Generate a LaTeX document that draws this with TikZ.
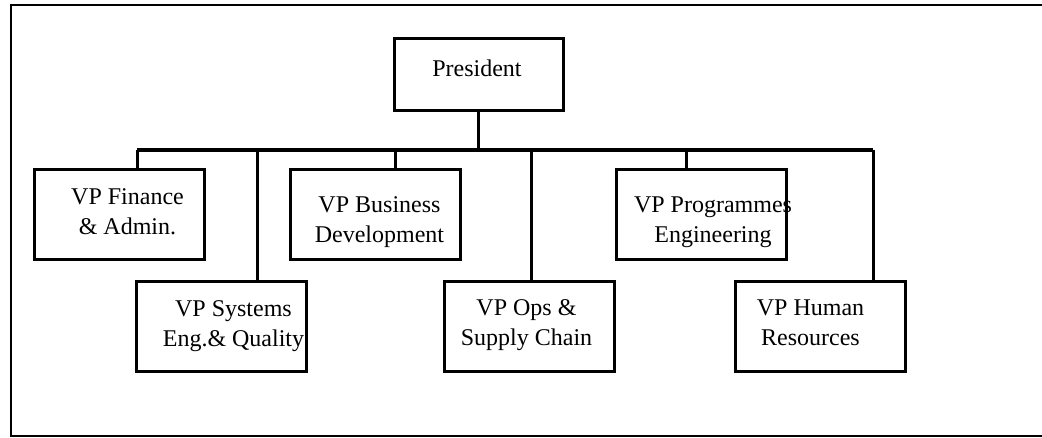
\documentclass[tikz,border=0pt]{standalone}
\usepackage{fontspec}
\setmainfont{Liberation Serif}
\begin{document}
\begin{tikzpicture}[x=1pt,y=-1pt,
  orgbox/.style={draw, line width=3pt, inner sep=0pt,
    minimum width=170pt, minimum height=90pt},
  boxtext/.style={inner sep=0pt, align=center, anchor=north,
    font=\fontsize{24}{30}\selectfont},
  link/.style={line width=3pt},
  busline/.style={line width=4.5pt}]
\useasboundingbox (0,0) rectangle (1042,437);

% open frame around the chart
\draw[line width=2pt] (1042,5) -- (11,5) -- (11,435.5) -- (1042,435.5);

% boxes
\node[orgbox, minimum width=169pt, minimum height=72pt] (pres) at (478.5,74) {};
\node[orgbox] (fin)  at (119,214) {};
\node[orgbox] (sys)  at (221.5,326.5) {};
\node[orgbox] (bus)  at (375.5,214) {};
\node[orgbox] (ops)  at (529.5,326.5) {};
\node[orgbox] (prog) at (701,214) {};
\node[orgbox] (hr)   at (820.5,326.5) {};

% labels
\node[inner sep=0pt, anchor=base, font=\fontsize{24}{30}\selectfont] (tpres) at (477,76) {President};
\node[boxtext] (tfin)  at (127.5,188) {VP Finance\\\& Admin.};
\node[boxtext] (tsys)  at (233.5,300) {VP Systems\\Eng.\& Quality};
\node[boxtext] (tbus)  at (379.5,196.5) {VP Business\\Development};
\node[boxtext] (tops)  at (526.5,299.5) {VP Ops \&\\Supply Chain};
\node[boxtext] (tprog) at (713,196.5) {VP Programmes\\Engineering};
\node[boxtext] (thr)   at (810.5,299.5) {VP Human\\Resources};

% junctions on the bus
\coordinate (jfin)  at (137,150);
\coordinate (jsys)  at (257,150);
\coordinate (jbus)  at (395,150);
\coordinate (jops)  at (531,150);
\coordinate (jprog) at (686,150);
\coordinate (jhr)   at (873,150);

% connectors
\draw[busline] (jfin) -- (jhr);
\draw[link] (pres.south) -- (pres.south |- jfin);
\draw[link] (jfin)  -- (jfin  |- fin.north);
\draw[link] (jsys)  -- (jsys  |- sys.north);
\draw[link] (jbus)  -- (jbus  |- bus.north);
\draw[link] (jops)  -- (jops  |- ops.north);
\draw[link] (jprog) -- (jprog |- prog.north);
\draw[link] (jhr)   -- (jhr   |- hr.north);
\end{tikzpicture}
\end{document}
